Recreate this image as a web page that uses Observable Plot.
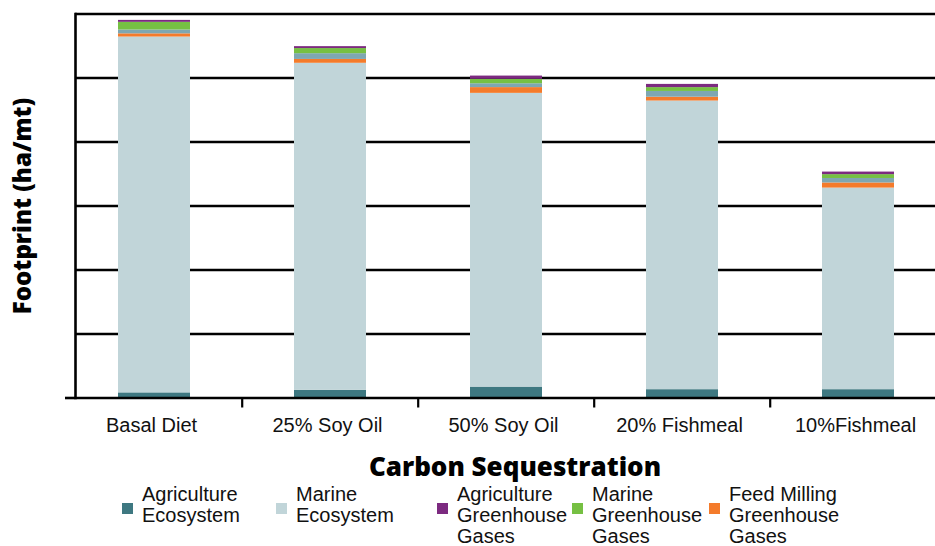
<!DOCTYPE html>
<html><head><meta charset="utf-8">
<script src="https://cdn.jsdelivr.net/npm/d3@7"></script>
<script src="https://cdn.jsdelivr.net/npm/@observablehq/plot@0.6"></script>
<style>
body{margin:0;background:#fff;}
#wrap{position:relative;width:935px;height:546px;overflow:hidden;}
#chart{position:absolute;left:0;top:0;}
#title{position:absolute;left:515px;top:450px;transform:translateX(-50%);white-space:nowrap;font:800 26px "Open Sans", "DejaVu Sans", sans-serif;color:#000;line-height:32px;}
.sw{position:absolute;top:503px;width:11px;height:11px;}
.lt{position:absolute;top:484px;font:20px "Liberation Sans", Arial, sans-serif;line-height:21px;color:#111;white-space:pre;}
</style></head><body>
<div id="wrap"><div id="chart"></div><div id="title">Carbon Sequestration</div><div id="legend"></div></div>
<script>
const categories = ["Basal Diet", "25% Soy Oil", "50% Soy Oil", "20% Fishmeal", "10%Fishmeal"];
const series = ["Agriculture Ecosystem", "Marine Ecosystem", "Feed Milling Greenhouse Gases", "Unlabeled band", "Marine Greenhouse Gases", "Agriculture Greenhouse Gases"];
const agricultureEcosystem = [0.08, 0.12, 0.17, 0.13, 0.13];
const marineEcosystem = [5.56, 5.11, 4.59, 4.51, 3.15];
const feedMillingGHG = [0.05, 0.06, 0.09, 0.06, 0.08];
const unlabeledBand = [0.06, 0.09, 0.06, 0.09, 0.07];
const marineGHG = [0.12, 0.08, 0.07, 0.06, 0.06];
const agricultureGHG = [0.03, 0.03, 0.05, 0.05, 0.04];
const yTicks = [0, 1, 2, 3, 4, 5, 6];
const legendItems = ["Agriculture Ecosystem", "Marine Ecosystem", "Agriculture Greenhouse Gases", "Marine Greenhouse Gases", "Feed Milling Greenhouse Gases"];
const legendText = ["Agriculture\nEcosystem", "Marine\nEcosystem", "Agriculture\nGreenhouse\nGases", "Marine\nGreenhouse\nGases", "Feed Milling\nGreenhouse\nGases"];

const colors = ["#3e7881", "#c1d5d9", "#f47b2b", "#7ea7b2", "#76c043", "#7c2a80"];
const legendLeft = [122, 276, 437, 572, 709];

const valuesBySeries = [agricultureEcosystem, marineEcosystem, feedMillingGHG, unlabeledBand, marineGHG, agricultureGHG];
const rows = [];
series.forEach((s, si) => categories.forEach((c, ci) => rows.push({category: c, series: s, value: valuesBySeries[si][ci]})));

const x0 = 65, x1 = 948;
const step = (x1 - x0) / categories.length;

const chart = Plot.plot({
  width: 935, height: 445,
  marginLeft: 75, marginRight: 0, marginTop: 13.5, marginBottom: 47.5,
  style: {background: "transparent", overflow: "visible"},
  x: {domain: categories, range: [x0, x1], paddingInner: 0.59, paddingOuter: 0.295},
  y: {domain: [0, 6], range: [397.5, 13.5]},
  color: {domain: series, range: colors},
  marks: [
    Plot.gridY(yTicks.slice(1), {stroke: "#000", strokeOpacity: 1, strokeWidth: 2.6}),
    Plot.barY(rows, {x: "category", y: "value", fill: "series", order: null}),
    Plot.gridY([0], {stroke: "#000", strokeOpacity: 1, strokeWidth: 2.6}),
    Plot.frame({anchor: "left", stroke: "#000", strokeWidth: 2.6}),
    Plot.axisY([0], {tickSize: 10, tickFormat: () => "", strokeWidth: 2.6, label: null}),
    Plot.axisY([], {label: "Footprint (ha/mt)", labelAnchor: "center", labelOffset: 62, labelArrow: false, fontSize: 24, fontWeight: 800, fontFamily: "Open Sans, DejaVu Sans, sans-serif", fill: "#000", dy: 9}),
    Plot.axisX(categories.slice(1), {tickSize: 10, tickFormat: () => "", dx: -step / 2, strokeWidth: 2.2, label: null}),
    Plot.axisX({tickSize: 0, tickPadding: 20, fontSize: 20, fontFamily: "Liberation Sans, Arial, sans-serif", fill: "#111", label: null, dx: -3})
  ]
});
document.getElementById("chart").appendChild(chart);

const legend = document.getElementById("legend");
legendItems.forEach((name, i) => {
  const sw = document.createElement("div");
  sw.className = "sw";
  sw.style.left = legendLeft[i] + "px";
  sw.style.background = colors[series.indexOf(name)];
  legend.appendChild(sw);
  const t = document.createElement("div");
  t.className = "lt";
  t.style.left = (legendLeft[i] + 20) + "px";
  t.textContent = legendText[i];
  legend.appendChild(t);
});
</script>
</body></html>
